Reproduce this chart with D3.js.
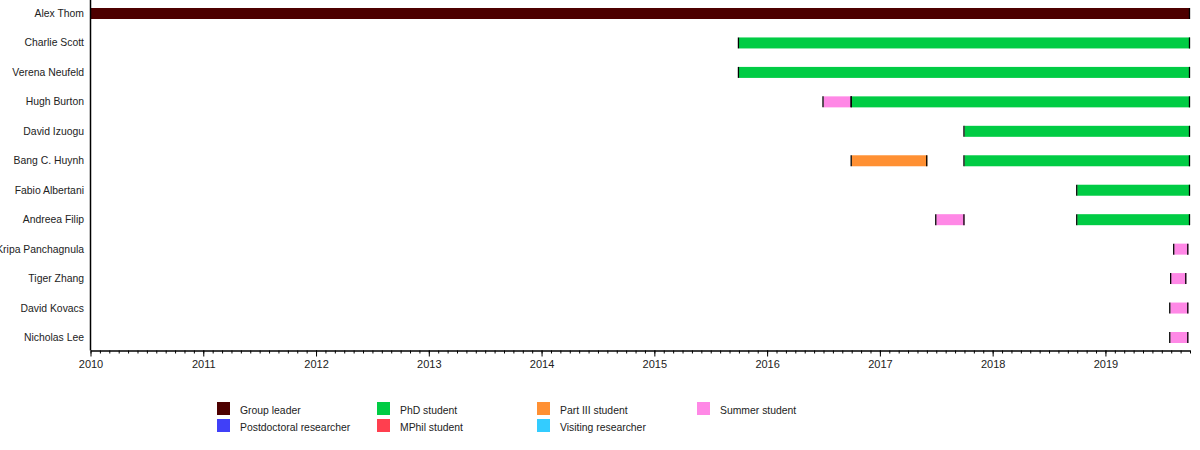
<!DOCTYPE html>
<html><head><meta charset="utf-8">
<script src="https://cdn.jsdelivr.net/npm/d3@7"></script>
<style>body{margin:0;background:#fff}svg{display:block;font-family:"Liberation Sans",Arial,sans-serif}</style>
</head><body><svg id="c" width="1200" height="450"></svg>
<script>
const people = ["Alex Thom","Charlie Scott","Verena Neufeld","Hugh Burton","David Izuogu","Bang C. Huynh","Fabio Albertani","Andreea Filip","Kripa Panchagnula","Tiger Zhang","David Kovacs","Nicholas Lee"];
const roles = ["Group leader","Postdoctoral researcher","PhD student","MPhil student","Part III student","Visiting researcher","Summer student"];
const roleColors = ["#4d0000","#4040f8","#00cc44","#ff3f4f","#ff9033","#33ccff","#ff88e6"];
const legendOrder = ["Group leader","PhD student","Part III student","Summer student","Postdoctoral researcher","MPhil student","Visiting researcher"];
// [person, role, start, end] in decimal years
const stints = [
  ["Alex Thom","Group leader",2010,2019.75],
  ["Charlie Scott","PhD student",2015.75,2019.75],
  ["Verena Neufeld","PhD student",2015.75,2019.75],
  ["Hugh Burton","Summer student",2016.5,2016.75],
  ["Hugh Burton","PhD student",2016.75,2019.75],
  ["David Izuogu","PhD student",2017.75,2019.75],
  ["Bang C. Huynh","Part III student",2016.75,2017.42],
  ["Bang C. Huynh","PhD student",2017.75,2019.75],
  ["Fabio Albertani","PhD student",2018.75,2019.75],
  ["Andreea Filip","Summer student",2017.5,2017.75],
  ["Andreea Filip","PhD student",2018.75,2019.75],
  ["Kripa Panchagnula","Summer student",2019.61,2019.735],
  ["Tiger Zhang","Summer student",2019.583,2019.717],
  ["David Kovacs","Summer student",2019.575,2019.735],
  ["Nicholas Lee","Summer student",2019.575,2019.735]
];
const yearTicks = [2010,2011,2012,2013,2014,2015,2016,2017,2018,2019];
const xDomain = [2010, 2019.75];

const svg = d3.select("#c");
const x = d3.scaleLinear().domain(xDomain).range([90.5, 1190]);
const y = d3.scalePoint().domain(people).range([13.5, 337.5]);
const color = d3.scaleOrdinal().domain(roles).range(roleColors);
const barH = 11;

// bars
const g = svg.append("g");
g.selectAll("rect.bar").data(stints).join("rect")
  .attr("x", d => x(d[2])).attr("y", d => y(d[0]) - barH/2)
  .attr("width", d => x(d[3]) - x(d[2])).attr("height", barH)
  .attr("fill", d => color(d[1]));
// end markers
const marks = stints.flatMap(d => [[d[0], d[2]], [d[0], d[3]]]).filter(m => m[1] > xDomain[0]);
g.selectAll("line.mk").data(marks).join("line")
  .attr("x1", d => x(d[1]) - 0.5).attr("x2", d => x(d[1]) - 0.5)
  .attr("y1", d => y(d[0]) - barH/2).attr("y2", d => y(d[0]) + barH/2)
  .attr("stroke", "#000").attr("stroke-width", 1.3);

// names
svg.append("g").selectAll("text").data(people).join("text")
  .attr("x", 84).attr("y", d => y(d) + 3.5)
  .attr("text-anchor", "end").attr("font-size", 10.4).attr("fill", "#222").text(d => d);

// y axis line
svg.append("line").attr("x1", 90.5).attr("x2", 90.5).attr("y1", 0).attr("y2", 350.5)
  .attr("stroke", "#000").attr("stroke-width", 1.5);

// x axis
const minor = d3.range(0, Math.round((xDomain[1]-xDomain[0])*12)+1).map(i => xDomain[0] + i/12);
const ax = svg.append("g").attr("transform", "translate(0,350.5)");
ax.append("g").call(d3.axisBottom(x).tickValues(minor).tickSize(3).tickFormat(""))
  .call(s => s.select(".domain").remove());
const major = ax.append("g").call(d3.axisBottom(x).tickValues(yearTicks).tickSize(6).tickSizeOuter(0).tickFormat(d3.format("d")));
major.select(".domain").attr("stroke-width", 1.5);
major.selectAll("text").attr("font-size", 11).attr("fill", "#222").attr("dy", "0.75em")
  .attr("font-family", "'Liberation Sans',Arial,sans-serif");
ax.selectAll("line").attr("stroke", "#000");

// legend
const lg = svg.append("g");
const items = lg.selectAll("g").data(legendOrder).join("g")
  .attr("transform", (d,i) => `translate(${217 + (i<4 ? i : i-4)*160},${i<4 ? 402 : 419})`);
items.append("rect").attr("width", 13).attr("height", 13).attr("fill", d => color(d));
items.append("text").attr("x", 23).attr("y", 12).attr("font-size", 10.4).attr("fill", "#222").text(d => d);
</script></body></html>
